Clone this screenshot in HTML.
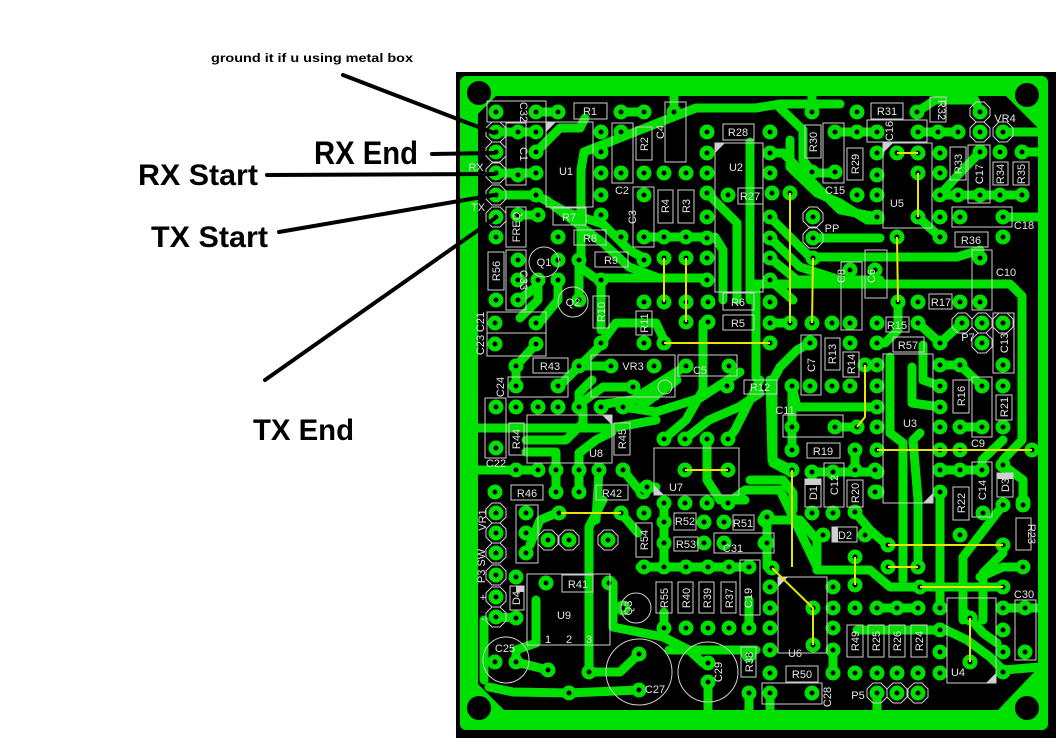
<!DOCTYPE html>
<html><head><meta charset="utf-8"><style>
html,body{margin:0;padding:0;background:#fff;}
svg{display:block;}
.l{font-family:"Liberation Sans",sans-serif;font-size:11px;fill:#e4e4e4;}
</style></head><body>
<svg width="1062" height="744" viewBox="0 0 1062 744" xmlns="http://www.w3.org/2000/svg">
<rect width="1062" height="744" fill="#fff"/>
<!-- board -->
<rect x="456" y="72" width="600" height="666" fill="#000"/>
<rect x="460" y="76" width="588" height="654" rx="6" fill="#00e000"/>
<path d="M496,96 L1006,96 L1038,128 L1038,668 L998,710 L504,710 L478,684 L478,114 Z" fill="#000"/>
<!-- traces -->
<g fill="none" stroke="#00e000" stroke-width="9" stroke-linecap="round" stroke-linejoin="round">
<polyline points="536,112 558,112"/>
<polyline points="621,112 644,112"/>
<polyline points="674,112 674,92"/>
<polyline points="812,112 812,92"/>
<polyline points="496,132 536,132"/>
<polyline points="496,173 536,173"/>
<polyline points="536,152 560,128 580,128 585,118"/>
<polyline points="840,104 780,104 756,108 696,108 584,152 581,170 581,268 595,278 706,278"/>
<polyline points="496,195 536,195 566,212 603,224 629,250 644,258"/>
<polyline points="546,200 603,243 629,267 656,277"/>
<polyline points="644,237 706,237"/>
<polyline points="707,193 737,223 737,300"/>
<polyline points="715,237 723,250 723,300"/>
<polyline points="750,142 750,300"/>
<polyline points="780,108 803,130 803,160 812,172"/>
<polyline points="770,153 783,153 840,210 877,217"/>
<polyline points="790,140 790,167 817,193 840,203 867,220 880,220"/>
<polyline points="813,238 880,238"/>
<polyline points="770,217 810,257 957,257 980,250"/>
<polyline points="770,238 800,267 840,280"/>
<polyline points="770,258 797,280 880,280"/>
<polyline points="770,280 793,300"/>
<polyline points="750,284 1010,284 1022,296 1022,440 1003,460"/>
<polyline points="940,195 1022,195"/>
<polyline points="1003,132 1038,132"/>
<polyline points="1022,152 1038,152"/>
<polyline points="835,132 877,132"/>
<polyline points="918,132 958,132"/>
<polyline points="810,173 833,173"/>
<polyline points="917,112 935,100 975,100 980,112"/>
<polyline points="940,237 918,217"/>
<polyline points="980,152 958,175 940,195"/>
<polyline points="1003,217 1038,217"/>
<polyline points="756,290 756,378"/>
<!-- left mid -->
<polyline points="518,215 538,215"/>
<polyline points="579,260 579,300"/>
<polyline points="601,280 601,330"/>
<polyline points="538,280 538,300 520,318"/>
<polyline points="558,280 558,300 540,322"/>
<polyline points="516,302 536,287"/>
<polyline points="601,343 616,323 656,323 664,340"/>
<polyline points="536,344 516,366 516,386"/>
<polyline points="579,366 611,366"/>
<polyline points="558,387 603,343"/>
<polyline points="633,387 603,387 581,403 579,407"/>
<polyline points="623,407 643,393 686,366"/>
<polyline points="579,407 579,393 592,380"/>
<polyline points="599,405 656,396"/>
<polyline points="703,323 703,390 686,420 664,439"/>
<polyline points="685,439 709,420 739,407 760,393"/>
<polyline points="760,380 735,430 728,439"/>
<polyline points="677,380 640,407"/>
<polyline points="623,407 656,412 700,398 740,372"/>
<polyline points="770,380 772,460 792,470"/>
<polyline points="478,428 612,428 656,420"/>
<polyline points="526,440 566,440 583,423 583,407"/>
<polyline points="526,452 556,452 556,470"/>
<polyline points="579,470 579,453 596,440 612,432"/>
<polyline points="478,470 538,470"/>
<polyline points="556,470 556,492"/>
<polyline points="579,470 579,492"/>
<polyline points="623,470 639,490 656,487"/>
<polyline points="599,470 596,520"/>
<polyline points="559,512 540,520 530,545"/>
<polyline points="728,503 745,490 780,490 817,567"/>
<polyline points="707,439 707,480 720,500 745,500"/>
<polyline points="792,386 792,440"/>
<polyline points="664,503 664,567"/>
<polyline points="640,567 749,567"/>
<polyline points="767,517 767,567"/>
<!-- right mid -->
<polyline points="770,323 790,323"/>
<polyline points="898,302 898,330 885,343 877,343"/>
<polyline points="918,323 940,343"/>
<polyline points="962,323 940,343"/>
<polyline points="810,343 797,350 780,367 773,380 773,463 790,472"/>
<polyline points="792,386 797,407 877,407"/>
<polyline points="890,357 890,433 903,443 903,580"/>
<polyline points="912,367 912,403 940,407"/>
<polyline points="920,433 913,440 918,500 918,567"/>
<polyline points="923,345 923,380 940,386"/>
<polyline points="940,365 960,365 982,386"/>
<polyline points="960,427 982,427"/>
<polyline points="1032,450 1038,450"/>
<polyline points="812,472 877,472"/>
<polyline points="750,480 783,480 793,493 793,510"/>
<polyline points="1003,440 982,460 982,470"/>
<polyline points="1003,465 1023,480 1023,502"/>
<polyline points="792,427 792,450"/>
<polyline points="855,450 855,470"/>
<polyline points="835,427 857,427"/>
<polyline points="940,470 982,470"/>
<polyline points="940,492 940,607"/>
<polyline points="855,512 870,530 887,545"/>
<!-- bottom -->
<polyline points="589,672 589,527 603,500"/>
<polyline points="516,662 548,670"/>
<polyline points="489,687 513,692 569,693 639,690"/>
<polyline points="536,600 536,643 516,650 516,662"/>
<polyline points="613,583 613,627 663,637 689,650 703,663"/>
<polyline points="639,654 620,672 589,672"/>
<polyline points="669,650 756,650"/>
<polyline points="708,682 708,712"/>
<polyline points="749,693 749,712"/>
<polyline points="644,567 664,567"/>
<polyline points="621,513 638,533"/>
<polyline points="496,617 516,618"/>
<polyline points="484,620 484,680"/>
<polyline points="817,570 870,570 890,587 997,587"/>
<polyline points="1003,505 963,557 963,620"/>
<polyline points="963,563 963,610 983,633 997,643"/>
<polyline points="980,577 1003,567 1023,567"/>
<polyline points="983,620 983,573 1003,553"/>
<polyline points="940,627 967,640 990,657 1003,670 1040,667"/>
<polyline points="857,630 937,630"/>
<polyline points="877,608 918,608"/>
<polyline points="877,693 877,712"/>
<polyline points="770,693 770,712"/>
<polyline points="765,520 800,520 817,540 817,570"/>
<polyline points="833,650 833,673"/>
<polyline points="1025,608 1038,608"/>
<polyline points="1003,608 1025,608"/>
<polyline points="664,628 664,612"/>
<polyline points="749,628 749,600"/>
</g>
<!-- pads -->
<g fill="#000" stroke="#00e000" stroke-width="5">
<circle cx="496" cy="112" r="5"/><circle cx="536" cy="112" r="5"/><circle cx="558" cy="112" r="5"/><circle cx="621" cy="112" r="5"/><circle cx="644" cy="112" r="5"/><circle cx="674" cy="112" r="5"/><circle cx="812" cy="112" r="5"/><circle cx="857" cy="112" r="5"/><circle cx="917" cy="112" r="5"/>
<circle cx="496" cy="132" r="5"/><circle cx="496" cy="152" r="5"/><circle cx="496" cy="173" r="5"/><circle cx="496" cy="195" r="5"/><circle cx="496" cy="217" r="5"/>
<circle cx="518" cy="132" r="5"/><circle cx="518" cy="175" r="5"/><circle cx="536" cy="132" r="5"/><circle cx="536" cy="152" r="5"/><circle cx="536" cy="173" r="5"/><circle cx="536" cy="195" r="5"/><circle cx="601" cy="132" r="5"/><circle cx="601" cy="152" r="5"/><circle cx="601" cy="173" r="5"/><circle cx="601" cy="195" r="5"/>
<circle cx="621" cy="132" r="5"/><circle cx="621" cy="173" r="5"/><circle cx="644" cy="173" r="5"/><circle cx="664" cy="173" r="5"/><circle cx="686" cy="173" r="5"/><circle cx="707" cy="132" r="5"/>
<circle cx="538" cy="215" r="5"/><circle cx="601" cy="215" r="5"/><circle cx="707" cy="153" r="5"/><circle cx="707" cy="173" r="5"/><circle cx="707" cy="193" r="5"/><circle cx="728" cy="195" r="5"/><circle cx="707" cy="217" r="5"/><circle cx="707" cy="238" r="5"/><circle cx="707" cy="258" r="5"/><circle cx="707" cy="280" r="5"/>
<circle cx="644" cy="195" r="5"/><circle cx="644" cy="237" r="5"/><circle cx="664" cy="237" r="5"/><circle cx="686" cy="237" r="5"/><circle cx="664" cy="258" r="5"/><circle cx="686" cy="258" r="5"/>
<circle cx="558" cy="237" r="5"/><circle cx="621" cy="237" r="5"/><circle cx="579" cy="260" r="5"/><circle cx="644" cy="260" r="5"/><circle cx="496" cy="237" r="5"/><circle cx="518" cy="215" r="5"/><circle cx="518" cy="260" r="5"/><circle cx="558" cy="260" r="5"/><circle cx="538" cy="280" r="5"/><circle cx="558" cy="280" r="5"/><circle cx="601" cy="280" r="5"/><circle cx="518" cy="280" r="5"/>
<circle cx="770" cy="132" r="5"/><circle cx="770" cy="153" r="5"/><circle cx="770" cy="173" r="5"/><circle cx="772" cy="193" r="5"/><circle cx="770" cy="217" r="5"/><circle cx="770" cy="238" r="5"/><circle cx="770" cy="258" r="5"/><circle cx="770" cy="280" r="5"/>
<circle cx="835" cy="132" r="5"/><circle cx="857" cy="132" r="5"/><circle cx="877" cy="132" r="5"/><circle cx="918" cy="132" r="5"/><circle cx="938" cy="132" r="5"/><circle cx="958" cy="132" r="5"/>
<circle cx="812" cy="172" r="5"/><circle cx="835" cy="172" r="5"/><circle cx="857" cy="195" r="5"/><circle cx="877" cy="153" r="5"/><circle cx="877" cy="175" r="5"/><circle cx="877" cy="195" r="5"/><circle cx="877" cy="217" r="5"/>
<circle cx="897" cy="153" r="5"/><circle cx="918" cy="153" r="5"/><circle cx="918" cy="173" r="5"/><circle cx="918" cy="217" r="5"/><circle cx="940" cy="153" r="5"/><circle cx="940" cy="173" r="5"/><circle cx="940" cy="195" r="5"/><circle cx="940" cy="217" r="5"/>
<circle cx="980" cy="152" r="5"/><circle cx="1000" cy="152" r="5"/><circle cx="1022" cy="152" r="5"/><circle cx="958" cy="195" r="5"/><circle cx="980" cy="195" r="5"/><circle cx="1000" cy="195" r="5"/><circle cx="1022" cy="195" r="5"/>
<circle cx="960" cy="217" r="5"/><circle cx="1003" cy="217" r="5"/><circle cx="940" cy="237" r="5"/><circle cx="1003" cy="237" r="5"/><circle cx="897" cy="237" r="5"/><circle cx="790" cy="193" r="5"/><circle cx="813" cy="258" r="5"/><circle cx="980" cy="258" r="5"/><circle cx="850" cy="270" r="5"/><circle cx="875" cy="270" r="5"/>
<circle cx="980" cy="112" r="5"/><circle cx="980" cy="132" r="5"/><circle cx="1003" cy="132" r="5"/><circle cx="813" cy="217" r="5"/><circle cx="813" cy="238" r="5"/>
<circle cx="496" cy="300" r="5"/><circle cx="518" cy="300" r="5"/><circle cx="495" cy="323" r="5"/><circle cx="536" cy="323" r="5"/><circle cx="495" cy="344" r="5"/><circle cx="536" cy="344" r="5"/><circle cx="579" cy="300" r="5"/><circle cx="601" cy="343" r="5"/><circle cx="644" cy="302" r="5"/><circle cx="644" cy="343" r="5"/><circle cx="664" cy="302" r="5"/><circle cx="686" cy="302" r="5"/><circle cx="664" cy="343" r="5"/><circle cx="686" cy="322" r="5"/><circle cx="708" cy="322" r="5"/><circle cx="708" cy="302" r="5"/>
<circle cx="516" cy="366" r="5"/><circle cx="579" cy="366" r="5"/><circle cx="611" cy="366" r="5"/><circle cx="654" cy="366" r="5"/><circle cx="633" cy="387" r="5"/><circle cx="686" cy="366" r="5"/><circle cx="729" cy="366" r="5"/><circle cx="727" cy="386" r="5"/><circle cx="516" cy="386" r="5"/><circle cx="558" cy="386" r="5"/>
<circle cx="496" cy="407" r="5"/><circle cx="516" cy="407" r="5"/><circle cx="538" cy="407" r="5"/><circle cx="558" cy="407" r="5"/><circle cx="579" cy="407" r="5"/><circle cx="601" cy="407" r="5"/><circle cx="623" cy="407" r="5"/><circle cx="496" cy="448" r="5"/>
<circle cx="516" cy="470" r="5"/><circle cx="538" cy="470" r="5"/><circle cx="556" cy="470" r="5"/><circle cx="579" cy="470" r="5"/><circle cx="599" cy="470" r="5"/><circle cx="623" cy="470" r="5"/>
<circle cx="664" cy="439" r="5"/><circle cx="685" cy="439" r="5"/><circle cx="707" cy="439" r="5"/><circle cx="728" cy="439" r="5"/><circle cx="685" cy="470" r="5"/><circle cx="728" cy="470" r="5"/><circle cx="495" cy="492" r="5"/><circle cx="556" cy="492" r="5"/><circle cx="579" cy="492" r="5"/><circle cx="643" cy="492" r="5"/><circle cx="664" cy="503" r="5"/><circle cx="685" cy="503" r="5"/><circle cx="707" cy="503" r="5"/><circle cx="728" cy="503" r="5"/>
<circle cx="770" cy="302" r="5"/><circle cx="770" cy="323" r="5"/><circle cx="790" cy="323" r="5"/><circle cx="812" cy="323" r="5"/><circle cx="832" cy="323" r="5"/><circle cx="850" cy="323" r="5"/><circle cx="877" cy="323" r="5"/><circle cx="877" cy="343" r="5"/><circle cx="850" cy="343" r="5"/><circle cx="810" cy="343" r="5"/><circle cx="770" cy="343" r="5"/>
<circle cx="898" cy="302" r="5"/><circle cx="918" cy="302" r="5"/><circle cx="960" cy="302" r="5"/><circle cx="980" cy="302" r="5"/><circle cx="918" cy="323" r="5"/><circle cx="1003" cy="365" r="5"/><circle cx="940" cy="343" r="5"/><circle cx="810" cy="386" r="5"/><circle cx="865" cy="365" r="5"/><circle cx="877" cy="365" r="5"/><circle cx="792" cy="386" r="5"/><circle cx="832" cy="386" r="5"/><circle cx="850" cy="386" r="5"/><circle cx="877" cy="386" r="5"/>
<circle cx="877" cy="407" r="5"/><circle cx="877" cy="427" r="5"/><circle cx="877" cy="450" r="5"/><circle cx="877" cy="472" r="5"/><circle cx="877" cy="492" r="5"/><circle cx="940" cy="365" r="5"/><circle cx="940" cy="386" r="5"/><circle cx="940" cy="407" r="5"/><circle cx="940" cy="427" r="5"/><circle cx="940" cy="450" r="5"/><circle cx="940" cy="470" r="5"/><circle cx="940" cy="492" r="5"/>
<circle cx="960" cy="365" r="5"/><circle cx="960" cy="427" r="5"/><circle cx="982" cy="386" r="5"/><circle cx="982" cy="427" r="5"/><circle cx="1003" cy="386" r="5"/><circle cx="1003" cy="427" r="5"/><circle cx="792" cy="427" r="5"/><circle cx="835" cy="427" r="5"/><circle cx="857" cy="427" r="5"/><circle cx="792" cy="450" r="5"/><circle cx="855" cy="450" r="5"/><circle cx="960" cy="450" r="5"/><circle cx="1032" cy="450" r="5"/>
<circle cx="812" cy="472" r="5"/><circle cx="833" cy="472" r="5"/><circle cx="855" cy="470" r="5"/><circle cx="960" cy="470" r="5"/><circle cx="982" cy="470" r="5"/><circle cx="1003" cy="465" r="5"/><circle cx="792" cy="470" r="5"/><circle cx="1023" cy="502" r="5"/><circle cx="875" cy="470" r="5"/><circle cx="875" cy="492" r="5"/><circle cx="855" cy="512" r="5"/>
<circle cx="962" cy="323" r="5"/><circle cx="982" cy="323" r="5"/><circle cx="1003" cy="323" r="5"/><circle cx="982" cy="343" r="5"/>
<circle cx="496" cy="513" r="5"/><circle cx="496" cy="533" r="5"/><circle cx="496" cy="553" r="5"/><circle cx="496" cy="575" r="5"/><circle cx="496" cy="597" r="5"/><circle cx="496" cy="617" r="5"/>
<circle cx="548" cy="540" r="5"/><circle cx="569" cy="540" r="5"/><circle cx="608" cy="540" r="5"/><circle cx="877" cy="693" r="5"/><circle cx="897" cy="693" r="5"/><circle cx="918" cy="693" r="5"/>
<circle cx="526" cy="513" r="5"/><circle cx="526" cy="533" r="5"/><circle cx="526" cy="553" r="5"/><circle cx="559" cy="513" r="5"/><circle cx="621" cy="513" r="5"/><circle cx="644" cy="513" r="5"/><circle cx="644" cy="567" r="5"/><circle cx="664" cy="522" r="5"/><circle cx="664" cy="543" r="5"/><circle cx="704" cy="522" r="5"/><circle cx="724" cy="522" r="5"/><circle cx="704" cy="543" r="5"/><circle cx="724" cy="543" r="5"/>
<circle cx="664" cy="567" r="5"/><circle cx="686" cy="567" r="5"/><circle cx="708" cy="567" r="5"/><circle cx="729" cy="567" r="5"/><circle cx="749" cy="567" r="5"/><circle cx="664" cy="628" r="5"/><circle cx="686" cy="628" r="5"/><circle cx="708" cy="628" r="5"/><circle cx="729" cy="628" r="5"/><circle cx="749" cy="628" r="5"/>
<circle cx="546" cy="583" r="5"/><circle cx="609" cy="583" r="5"/><circle cx="516" cy="577" r="5"/><circle cx="516" cy="618" r="5"/><circle cx="495" cy="662" r="5"/><circle cx="516" cy="662" r="5"/><circle cx="548" cy="670" r="5"/><circle cx="589" cy="672" r="5"/><circle cx="569" cy="693" r="5"/><circle cx="639" cy="654" r="5"/><circle cx="639" cy="690" r="5"/><circle cx="708" cy="663" r="5"/><circle cx="708" cy="682" r="5"/><circle cx="749" cy="693" r="5"/><circle cx="623" cy="608" r="5"/>
<circle cx="765" cy="520" r="5"/><circle cx="765" cy="543" r="5"/><circle cx="812" cy="513" r="5"/><circle cx="833" cy="513" r="5"/><circle cx="983" cy="513" r="5"/><circle cx="1003" cy="505" r="5"/><circle cx="1023" cy="505" r="5"/><circle cx="960" cy="535" r="5"/>
<circle cx="823" cy="535" r="5"/><circle cx="865" cy="535" r="5"/><circle cx="888" cy="545" r="5"/><circle cx="1003" cy="545" r="5"/><circle cx="855" cy="557" r="5"/><circle cx="855" cy="585" r="5"/><circle cx="888" cy="567" r="5"/><circle cx="918" cy="567" r="5"/><circle cx="920" cy="587" r="5"/><circle cx="1003" cy="587" r="5"/><circle cx="1023" cy="567" r="5"/><circle cx="1025" cy="608" r="5"/><circle cx="1025" cy="652" r="5"/>
<circle cx="970" cy="618" r="5"/><circle cx="970" cy="662" r="5"/><circle cx="772" cy="568" r="5"/><circle cx="813" cy="608" r="5"/><circle cx="813" cy="645" r="5"/><circle cx="855" cy="608" r="5"/><circle cx="877" cy="608" r="5"/><circle cx="897" cy="608" r="5"/><circle cx="918" cy="608" r="5"/><circle cx="940" cy="608" r="5"/>
<circle cx="833" cy="673" r="5"/><circle cx="855" cy="673" r="5"/><circle cx="877" cy="673" r="5"/><circle cx="897" cy="673" r="5"/><circle cx="918" cy="673" r="5"/><circle cx="940" cy="673" r="5"/><circle cx="770" cy="673" r="5"/><circle cx="770" cy="693" r="5"/><circle cx="812" cy="693" r="5"/>
<circle cx="770" cy="587" r="5"/><circle cx="770" cy="608" r="5"/><circle cx="770" cy="628" r="5"/><circle cx="770" cy="650" r="5"/><circle cx="833" cy="587" r="5"/><circle cx="833" cy="608" r="5"/><circle cx="833" cy="628" r="5"/><circle cx="833" cy="650" r="5"/><circle cx="1003" cy="608" r="5"/><circle cx="1003" cy="630" r="5"/><circle cx="1003" cy="652" r="5"/><circle cx="1003" cy="672" r="5"/><circle cx="940" cy="630" r="5"/><circle cx="940" cy="652" r="5"/><circle cx="749" cy="655" r="5"/>
<circle cx="767" cy="517" r="5"/><circle cx="767" cy="543" r="5"/><circle cx="647" cy="487" r="5"/>
</g>
<!-- mounting holes -->
<g fill="#000"><circle cx="479" cy="93" r="12"/><circle cx="1027" cy="95" r="12"/><circle cx="479" cy="708" r="12"/><circle cx="1027" cy="708" r="12"/></g>
<!-- outlines -->
<g fill="none" stroke="#cfcfcf" stroke-width="1">
<path d="M492,122h8l6,6v8l-6,6h-8l-6,-6v-8zM492,142h8l6,6v8l-6,6h-8l-6,-6v-8zM492,163h8l6,6v8l-6,6h-8l-6,-6v-8zM492,185h8l6,6v8l-6,6h-8l-6,-6v-8zM492,207h8l6,6v8l-6,6h-8l-6,-6v-8z"/>
<path d="M976,102h8l6,6v8l-6,6h-8l-6,-6v-8zM976,122h8l6,6v8l-6,6h-8l-6,-6v-8zM999,122h8l6,6v8l-6,6h-8l-6,-6v-8zM809,207h8l6,6v8l-6,6h-8l-6,-6v-8zM809,228h8l6,6v8l-6,6h-8l-6,-6v-8z"/>
<path d="M958,313h8l6,6v8l-6,6h-8l-6,-6v-8zM978,313h8l6,6v8l-6,6h-8l-6,-6v-8zM999,313h8l6,6v8l-6,6h-8l-6,-6v-8zM978,333h8l6,6v8l-6,6h-8l-6,-6v-8z"/>
<path d="M492,503h8l6,6v8l-6,6h-8l-6,-6v-8zM492,523h8l6,6v8l-6,6h-8l-6,-6v-8zM492,543h8l6,6v8l-6,6h-8l-6,-6v-8zM492,565h8l6,6v8l-6,6h-8l-6,-6v-8zM492,587h8l6,6v8l-6,6h-8l-6,-6v-8zM492,607h8l6,6v8l-6,6h-8l-6,-6v-8z"/>
<path d="M544,530h8l6,6v8l-6,6h-8l-6,-6v-8zM565,530h8l6,6v8l-6,6h-8l-6,-6v-8zM604,530h8l6,6v8l-6,6h-8l-6,-6v-8zM873,683h8l6,6v8l-6,6h-8l-6,-6v-8zM893,683h8l6,6v8l-6,6h-8l-6,-6v-8zM914,683h8l6,6v8l-6,6h-8l-6,-6v-8z"/>
<rect x="487" y="101" width="59" height="21"/><rect x="574" y="103" width="33" height="16"/><rect x="506" y="123" width="20" height="62"/><rect x="546" y="122" width="47" height="85"/>
<rect x="612" y="123" width="21" height="60"/><rect x="636" y="127" width="16" height="33"/><rect x="665" y="102" width="21" height="60"/><rect x="723" y="124" width="31" height="16"/>
<rect x="715" y="143" width="48" height="149"/><rect x="738" y="188" width="25" height="16"/><rect x="633" y="187" width="21" height="60"/><rect x="658" y="190" width="15" height="33"/><rect x="678" y="190" width="16" height="33"/>
<rect x="553" y="208" width="33" height="17"/><rect x="574" y="230" width="32" height="15"/><rect x="595" y="252" width="33" height="15"/><rect x="506" y="207" width="20" height="40"/><rect x="488" y="252" width="16" height="38"/><rect x="506" y="250" width="20" height="60"/>
<circle cx="544" cy="262" r="15"/>
<rect x="805" y="125" width="16" height="33"/><rect x="871" y="103" width="32" height="16"/><rect x="930" y="97" width="16" height="25"/><rect x="823" y="123" width="21" height="60"/><rect x="847" y="148" width="16" height="32"/><rect x="867" y="120" width="60" height="22"/>
<rect x="883" y="143" width="49" height="85"/><rect x="950" y="147" width="16" height="33"/><rect x="968" y="145" width="22" height="58"/><rect x="993" y="162" width="15" height="23"/><rect x="1013" y="162" width="16" height="23"/>
<rect x="952" y="207" width="60" height="20"/><rect x="955" y="232" width="33" height="15"/><rect x="972" y="250" width="20" height="60"/><rect x="841" y="262" width="21" height="68"/><rect x="865" y="250" width="22" height="48"/>
<rect x="723" y="293" width="31" height="17"/><rect x="723" y="315" width="31" height="15"/><circle cx="573" cy="302" r="15"/><rect x="593" y="296" width="16" height="32"/><rect x="636" y="311" width="16" height="24"/>
<rect x="487" y="312" width="59" height="21"/><rect x="487" y="333" width="59" height="23"/><rect x="533" y="358" width="35" height="15"/><rect x="591" y="355" width="84" height="42"/><circle cx="665" cy="387" r="7"/><rect x="678" y="355" width="59" height="21"/><rect x="744" y="380" width="33" height="14"/>
<rect x="508" y="377" width="60" height="20"/><rect x="485" y="398" width="21" height="60"/><rect x="509" y="423" width="15" height="32"/><rect x="527" y="415" width="85" height="48"/><rect x="614" y="423" width="16" height="32"/>
<rect x="654" y="448" width="85" height="47"/><rect x="511" y="485" width="32" height="15"/><rect x="596" y="485" width="32" height="15"/>
<rect x="929" y="294" width="23" height="15"/><rect x="886" y="317" width="23" height="15"/><rect x="893" y="337" width="31" height="15"/><rect x="993" y="313" width="21" height="60"/><rect x="801" y="335" width="20" height="60"/><rect x="825" y="338" width="15" height="32"/><rect x="843" y="352" width="16" height="25"/>
<rect x="883" y="354" width="50" height="149"/><rect x="953" y="380" width="16" height="33"/><rect x="972" y="377" width="20" height="60"/><rect x="996" y="395" width="16" height="25"/>
<rect x="783" y="415" width="60" height="22"/><rect x="807" y="443" width="33" height="15"/><rect x="805" y="479" width="16" height="28"/><rect x="824" y="463" width="20" height="44"/><rect x="847" y="480" width="16" height="27"/>
<rect x="953" y="487" width="16" height="33"/><rect x="972" y="462" width="20" height="55"/><rect x="997" y="473" width="16" height="24"/>
<rect x="516" y="505" width="22" height="58"/><rect x="510" y="586" width="14" height="24"/><rect x="636" y="523" width="16" height="34"/><rect x="674" y="513" width="22" height="17"/><rect x="733" y="515" width="21" height="15"/><rect x="674" y="537" width="24" height="14"/><rect x="714" y="533" width="60" height="20"/>
<rect x="656" y="582" width="16" height="31"/><rect x="678" y="582" width="15" height="31"/><rect x="699" y="582" width="15" height="31"/><rect x="721" y="582" width="15" height="31"/><rect x="740" y="560" width="20" height="55"/>
<circle cx="636" cy="608" r="15"/><rect x="527" y="574" width="83" height="71"/><rect x="562" y="575" width="31" height="17"/>
<circle cx="506" cy="660" r="23"/><circle cx="639" cy="672" r="33"/><circle cx="708" cy="672" r="30"/>
<rect x="741" y="647" width="15" height="30"/><rect x="832" y="527" width="25" height="15"/><rect x="1016" y="518" width="15" height="32"/><rect x="1015" y="600" width="21" height="60"/>
<rect x="947" y="598" width="49" height="85"/><rect x="778" y="577" width="49" height="76"/>
<rect x="847" y="625" width="16" height="32"/><rect x="868" y="625" width="16" height="32"/><rect x="889" y="625" width="16" height="32"/><rect x="911" y="625" width="16" height="32"/>
<rect x="786" y="666" width="32" height="16"/><rect x="762" y="683" width="60" height="21"/>
</g>
<g fill="#cfcfcf">
<path d="M546,122h10l-10,10z"/><path d="M715,143h10l-10,10z"/><path d="M883,143h10l-10,10z"/><path d="M612,415h-10l10,10z"/><path d="M654,495v-10l10,10z"/><path d="M933,503h-10l10,-10z"/><path d="M778,577h10l-10,10z"/><path d="M996,683h-10l10,-10z"/>
<rect x="805" y="479" width="16" height="6"/><rect x="997" y="473" width="16" height="6"/><rect x="832" y="527" width="6" height="15"/><rect x="516" y="586" width="8" height="6"/>
</g>
<!-- jumpers -->
<g stroke="#e6e600" stroke-width="2" fill="none">
<path d="M664,258V302M686,258V322M664,343H770M790,193V323M813,258L812,323M897,153H918M918,173V217M897,237L898,302M865,365V417L857,427M877,450H1032M685,470H728M561,513H621M792,470V567M772,568L813,608V645M888,545H1003M855,557V585M888,567H918M920,587H1003M970,618V662"/>
</g>
<!-- labels -->
<g class="l">
<text x="590" y="115" text-anchor="middle">R1</text>
<text x="566" y="175" text-anchor="middle">U1</text>
<text x="622" y="194" text-anchor="middle">C2</text>
<text x="738" y="136" text-anchor="middle">R28</text>
<text x="736" y="171" text-anchor="middle">U2</text>
<text x="750" y="200" text-anchor="middle">R27</text>
<text x="569" y="221" text-anchor="middle">R7</text>
<text x="590" y="242" text-anchor="middle">R8</text>
<text x="611" y="264" text-anchor="middle">R9</text>
<text x="544" y="266" text-anchor="middle">Q1</text>
<text x="476" y="171" text-anchor="middle">RX</text>
<text x="478" y="211" text-anchor="middle">TX</text>
<text x="887" y="115" text-anchor="middle">R31</text>
<text x="1005" y="122" text-anchor="middle">VR4</text>
<text x="835" y="194" text-anchor="middle">C15</text>
<text x="897" y="207" text-anchor="middle">U5</text>
<text x="1024" y="229" text-anchor="middle">C18</text>
<text x="971" y="244" text-anchor="middle">R36</text>
<text x="832" y="232" text-anchor="middle">PP</text>
<text x="1006" y="276" text-anchor="middle">C10</text>
<text x="738" y="306" text-anchor="middle">R6</text>
<text x="738" y="327" text-anchor="middle">R5</text>
<text x="573" y="306" text-anchor="middle">Q2</text>
<text x="550" y="370" text-anchor="middle">R43</text>
<text x="633" y="370" text-anchor="middle">VR3</text>
<text x="700" y="374" text-anchor="middle">C5</text>
<text x="760" y="391" text-anchor="middle">R12</text>
<text x="496" y="467" text-anchor="middle">C22</text>
<text x="596" y="457" text-anchor="middle">U8</text>
<text x="676" y="491" text-anchor="middle">U7</text>
<text x="527" y="497" text-anchor="middle">R46</text>
<text x="612" y="497" text-anchor="middle">R42</text>
<text x="941" y="306" text-anchor="middle">R17</text>
<text x="897" y="329" text-anchor="middle">R15</text>
<text x="968" y="341" text-anchor="middle">P7</text>
<text x="908" y="349" text-anchor="middle">R57</text>
<text x="910" y="427" text-anchor="middle">U3</text>
<text x="978" y="447" text-anchor="middle">C9</text>
<text x="785" y="414" text-anchor="middle">C11</text>
<text x="823" y="455" text-anchor="middle">R19</text>
<text x="685" y="525" text-anchor="middle">R52</text>
<text x="743" y="527" text-anchor="middle">R51</text>
<text x="686" y="548" text-anchor="middle">R53</text>
<text x="733" y="552" text-anchor="middle">C31</text>
<text x="564" y="619" text-anchor="middle">U9</text>
<text x="578" y="588" text-anchor="middle">R41</text>
<text x="548" y="643" text-anchor="middle">1</text>
<text x="569" y="643" text-anchor="middle">2</text>
<text x="589" y="643" text-anchor="middle">3</text>
<text x="505" y="652" text-anchor="middle">C25</text>
<text x="655" y="693" text-anchor="middle">C27</text>
<text x="845" y="539" text-anchor="middle">D2</text>
<text x="1024" y="598" text-anchor="middle">C30</text>
<text x="958" y="676" text-anchor="middle">U4</text>
<text x="795" y="657" text-anchor="middle">U6</text>
<text x="802" y="678" text-anchor="middle">R50</text>
<text x="858" y="699" text-anchor="middle">P5</text>
<text x="483" y="601" text-anchor="middle">+</text>
<text x="483" y="622" text-anchor="middle">-</text>
<g text-anchor="middle">
<text transform="translate(520,112) rotate(90)">C32</text>
<text transform="translate(520,154) rotate(90)">C1</text>
<text transform="translate(648,144) rotate(-90)">R2</text>
<text transform="translate(664,132) rotate(-90)">C4</text>
<text transform="translate(636,217) rotate(-90)">C3</text>
<text transform="translate(669,206) rotate(-90)">R4</text>
<text transform="translate(690,206) rotate(-90)">R3</text>
<text transform="translate(520,227) rotate(-90)">FREQ</text>
<text transform="translate(500,271) rotate(-90)">R56</text>
<text transform="translate(520,280) rotate(90)">C33</text>
<text transform="translate(817,142) rotate(-90)">R30</text>
<text transform="translate(938,110) rotate(90)">R32</text>
<text transform="translate(859,164) rotate(-90)">R29</text>
<text transform="translate(893,131) rotate(-90)">C16</text>
<text transform="translate(962,164) rotate(-90)">R33</text>
<text transform="translate(983,174) rotate(-90)">C17</text>
<text transform="translate(1004,174) rotate(-90)">R34</text>
<text transform="translate(1025,174) rotate(-90)">R35</text>
<text transform="translate(845,276) rotate(-90)">C8</text>
<text transform="translate(875,276) rotate(-90)">C6</text>
<text transform="translate(605,312) rotate(-90)">R10</text>
<text transform="translate(648,323) rotate(-90)">R11</text>
<text transform="translate(484,322) rotate(-90)">C21</text>
<text transform="translate(484,345) rotate(-90)">C23</text>
<text transform="translate(504,387) rotate(-90)">C24</text>
<text transform="translate(520,439) rotate(-90)">R44</text>
<text transform="translate(626,439) rotate(-90)">R45</text>
<text transform="translate(1008,343) rotate(-90)">C13</text>
<text transform="translate(815,365) rotate(-90)">C7</text>
<text transform="translate(836,354) rotate(-90)">R13</text>
<text transform="translate(855,364) rotate(-90)">R14</text>
<text transform="translate(965,396) rotate(-90)">R16</text>
<text transform="translate(1008,407) rotate(-90)">R21</text>
<text transform="translate(817,493) rotate(-90)">D1</text>
<text transform="translate(838,485) rotate(-90)">C12</text>
<text transform="translate(859,493) rotate(-90)">R20</text>
<text transform="translate(965,503) rotate(-90)">R22</text>
<text transform="translate(986,490) rotate(-90)">C14</text>
<text transform="translate(1009,485) rotate(-90)">D3</text>
<text transform="translate(486,520) rotate(-90)">VR1</text>
<text transform="translate(485,566) rotate(-90)">P3 SW</text>
<text transform="translate(520,598) rotate(-90)">D4</text>
<text transform="translate(648,540) rotate(-90)">R54</text>
<text transform="translate(668,598) rotate(-90)">R55</text>
<text transform="translate(690,598) rotate(-90)">R40</text>
<text transform="translate(711,598) rotate(-90)">R39</text>
<text transform="translate(733,598) rotate(-90)">R37</text>
<text transform="translate(752,598) rotate(-90)">C19</text>
<text transform="translate(632,608) rotate(-90)">Q3</text>
<text transform="translate(722,672) rotate(-90)">C29</text>
<text transform="translate(753,662) rotate(-90)">R38</text>
<text transform="translate(1028,534) rotate(90)">R23</text>
<text transform="translate(859,641) rotate(-90)">R49</text>
<text transform="translate(880,641) rotate(-90)">R25</text>
<text transform="translate(901,641) rotate(-90)">R26</text>
<text transform="translate(923,641) rotate(-90)">R24</text>
<text transform="translate(831,697) rotate(-90)">C28</text>
</g>
</g>
<!-- annotation lines -->
<g stroke="#000" stroke-width="4" stroke-linecap="round">
<line x1="343" y1="75" x2="494" y2="133"/>
<line x1="432" y1="154" x2="494" y2="153"/>
<line x1="267" y1="175" x2="494" y2="174"/>
<line x1="279" y1="232" x2="494" y2="195"/>
<line x1="265" y1="380" x2="494" y2="219"/>
</g>
<g font-family="'Liberation Sans',sans-serif" font-weight="bold" fill="#000">
<text x="211" y="62" font-size="12" textLength="202" lengthAdjust="spacingAndGlyphs">ground it if u using metal box</text>
<text x="314" y="164" font-size="32" textLength="104" lengthAdjust="spacingAndGlyphs">RX End</text>
<text x="138" y="185" font-size="30" textLength="120" lengthAdjust="spacingAndGlyphs">RX Start</text>
<text x="151" y="247" font-size="30" textLength="117" lengthAdjust="spacingAndGlyphs">TX Start</text>
<text x="253" y="440" font-size="30" textLength="101" lengthAdjust="spacingAndGlyphs">TX End</text>
</g>
</svg>
</body></html>
